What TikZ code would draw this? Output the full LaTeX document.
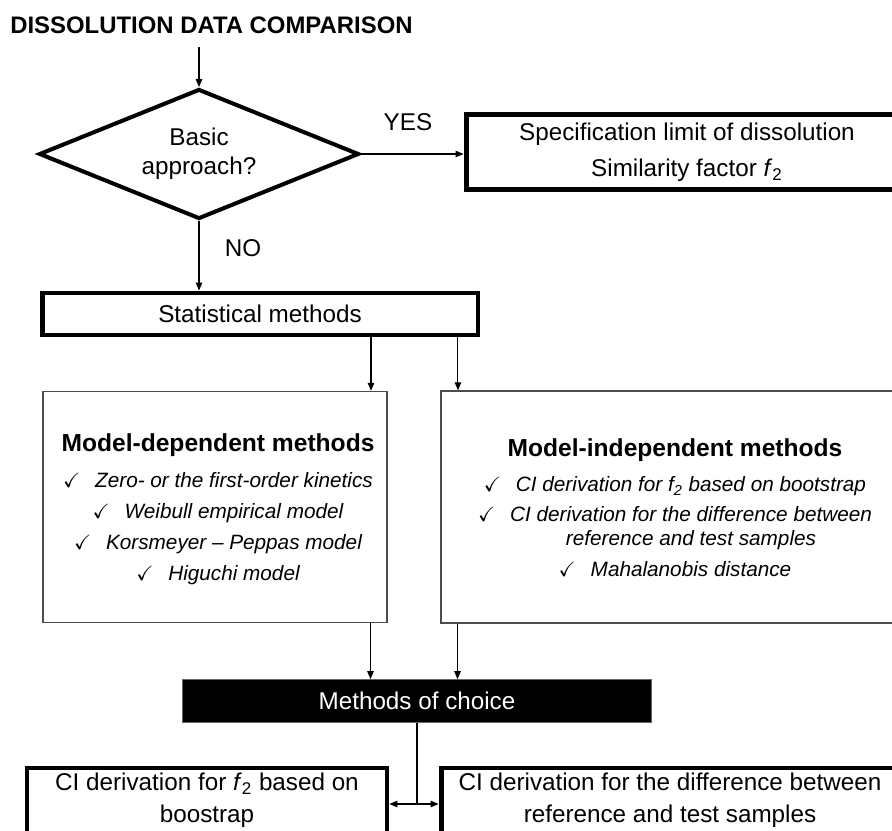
\documentclass[tikz,border=0pt]{standalone}
\usepackage{fontspec}
\setmainfont{Liberation Sans}
\usepackage{amssymb}
\usetikzlibrary{shapes.geometric,arrows.meta}

\tikzset{
  txt/.style={font=\fontsize{13.8}{16.5}\selectfont, align=center, inner sep=0pt},
  thickbox/.style={txt, draw, line width=2.8pt},
  thinbox/.style={draw=black!70, line width=0.8pt},
  decision/.style={txt, draw, diamond, aspect=2.5, line width=2.3pt, minimum width=6.4cm, minimum height=2.6cm},
  items/.style={font=\fontsize{11.8}{17.6}\selectfont\itshape, align=center, inner sep=0pt},
  flow/.style={-{Triangle[length=1.6mm,width=1.3mm]}, line width=0.6pt},
  twoway/.style={{Triangle[length=1.6mm,width=1.3mm]}-{Triangle[length=1.6mm,width=1.3mm]}, line width=0.6pt},
}
\newcommand{\chk}{\makebox[0.64cm][l]{$\checkmark$}}
\newcommand{\hd}[1]{{\fontsize{14}{17}\selectfont\upshape\bfseries #1}}

\begin{document}
\begin{tikzpicture}[x=0.02cm,y=-0.02cm]
    \useasboundingbox (0,0) rectangle (892,831);
    \clip (0,0) rectangle (892,831);
    \node[anchor=west, inner sep=0pt, font=\fontsize{13.6}{16}\selectfont\bfseries] (title) at (10,25) {DISSOLUTION DATA COMPARISON};
    \coordinate (start) at (199,47);
    \node[decision] (basic) at (199,154) {Basic\\approach?};
    \node[thickbox, minimum width=8.84cm, minimum height=1.5cm] (spec) at (687,152) {Specification limit of dissolution\\[4pt]Similarity factor \textit{f}\textsubscript{2}};
    \node[txt] (yes) at (408,122) {YES};
    \node[txt] (no) at (243,248) {NO};
    \node[thickbox, minimum width=8.72cm, minimum height=0.84cm] (stat) at (260,314) {Statistical methods};
    % the two method groups
    \node[thinbox, minimum width=6.88cm, minimum height=4.62cm] (dep) at (215,507) {};
    \node[thinbox, minimum width=9.36cm, minimum height=4.64cm] (indep) at (675,507) {};
    \node[items] (deptext) at (218,509) {\hd{Model-dependent methods}\\[3pt]
        \chk Zero- or the first-order kinetics\\
        \chk Weibull empirical model\\
        \chk Korsmeyer -- Peppas model\\
        \chk Higuchi model};
    \node[items] (indeptext) at (675,508) {\hd{Model-independent methods}\\[2.4pt]
        \chk CI derivation for f\textsubscript{2} based on bootstrap\\[-0.6pt]
        \chk CI derivation for the difference between\\[-3.9pt]
        \hspace*{0.64cm}reference and test samples\\
        \chk Mahalanobis distance};
    \node[txt, draw=black!60, fill=black, text=white, minimum width=9.38cm, minimum height=0.86cm] (choice) at (417,701) {Methods of choice};
    \node[thickbox, minimum width=7.2cm, minimum height=1.44cm] (cil) at (207,804) {};
    \node[thickbox, minimum width=9.16cm, minimum height=1.44cm] (cir) at (670,804) {};
    \node[txt] (ciltext) at (207,800) {CI derivation for \textit{f}\textsubscript{2} based on\\[1.5pt]boostrap};
    \node[txt] (cirtext) at (670,800) {CI derivation for the difference between\\[1.5pt]reference and test samples};
    % connectors
    \coordinate (outL) at ([xshift=2.22cm]stat.south);
    \coordinate (outR) at ([xshift=3.96cm]stat.south);
    \coordinate (inL) at ([xshift=-0.93cm]choice.north);
    \coordinate (inR) at ([xshift=0.81cm]choice.north);
    \draw[flow] (start) -- (basic.north);
    \draw[flow] (basic.east) -- (basic.east -| spec.west);
    \draw[flow] (basic.south) -- (basic.south |- stat.north);
    \draw[flow] (outL) -- (outL |- dep.north);
    \draw[flow] (outR) -- (outR |- indep.north);
    \draw[flow] (inL |- dep.south) -- (inL);
    \draw[flow] (inR |- indep.south) -- (inR);
    \draw[line width=0.6pt] (choice.south) -- (choice.south |- cil.east);
    \draw[twoway] (cil.east) -- (cir.west);
\end{tikzpicture}
\end{document}
